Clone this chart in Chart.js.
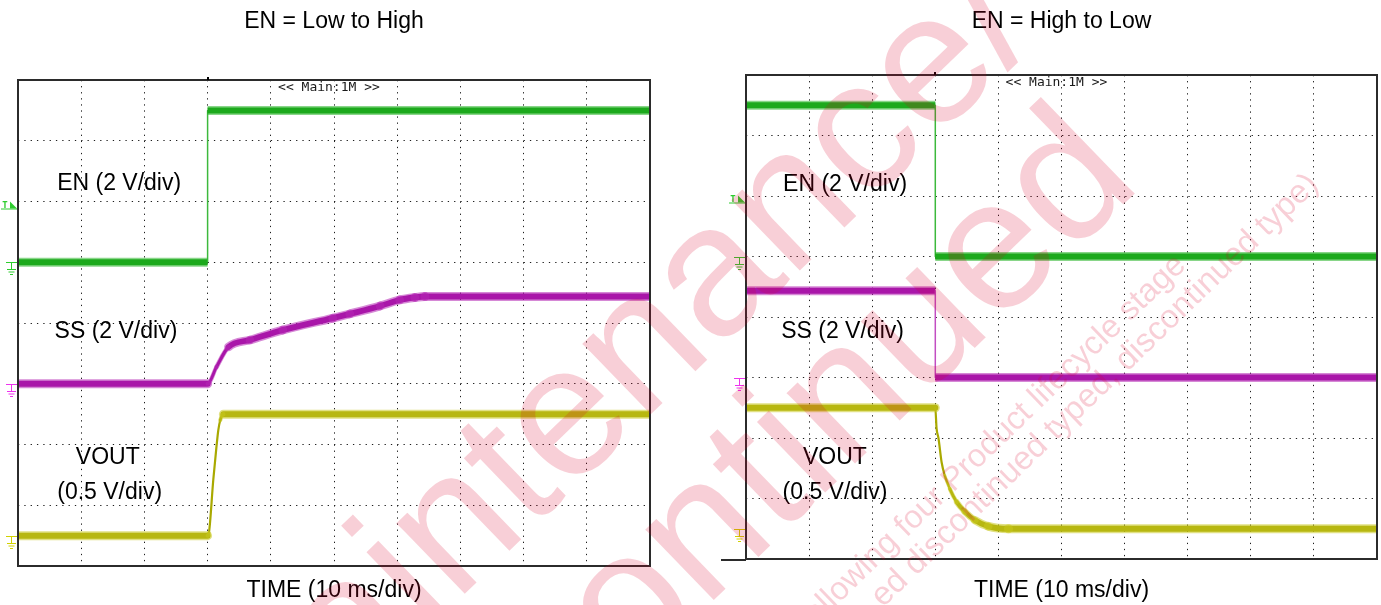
<!DOCTYPE html>
<html>
<head>
<meta charset="utf-8">
<script src="https://cdn.jsdelivr.net/npm/chart.js@4.4.1/dist/chart.umd.min.js"></script>
<style>
html,body{margin:0;padding:0;background:#fff;overflow:hidden}
#wrap{position:relative;width:1381px;height:605px;background:#fff}
.pane{position:absolute;top:0;height:605px}
#wm{position:absolute;left:0;top:0;z-index:10;pointer-events:none}
</style>
</head>
<body>
<div id="wrap">
  <div class="pane" style="left:0;width:700px"><canvas id="c1"></canvas></div>
  <div class="pane" style="left:700px;width:681px"><canvas id="c2"></canvas></div>
  <canvas id="wm" width="1381" height="605"></canvas>
</div>
<script>
// ---------------- data ----------------
const panelTitles = ['EN = Low to High', 'EN = High to Low'];
const xAxisTitle = 'TIME (10 ms/div)';
const timebaseText = '<< Main:1M >>';
const channelNames = ['EN', 'SS', 'VOUT'];
const voltsPerDiv = [2, 2, 0.5];        // V/div per channel
const groundDiv = [5, 3, 0.5];          // ground level, divisions from bottom
const triggerTimeMs = 30;
const triggerLevelV = 2;                // on EN
const timeMinMs = 0, timeMaxMs = 100, msPerDiv = 10;
const divsY = 8;

// Left: EN low -> high (times in ms, values in V)
const enUpTime   = [0, 30, 30, 100];
const enUpV      = [0, 0, 5.0, 5.0];
const ssUpTime   = [0, 30, 31.4, 33.3, 36.7, 41.9, 49.8, 52.5, 57.3, 60.4, 62.8, 64.4, 100];
const ssUpV      = [0, 0, 0.55, 1.21, 1.44, 1.77, 2.16, 2.30, 2.56, 2.76, 2.84, 2.87, 2.87];
const voutUpTime = [0, 30, 30.2, 30.9, 31.4, 31.7, 32.0, 32.5, 100];
const voutUpV    = [0, 0, 0.02, 0.46, 0.73, 0.87, 0.95, 1.0, 1.0];

// Right: EN high -> low
const enDnTime   = [0, 30, 30, 100];
const enDnV      = [5.0, 5.0, 0, 0];
const ssDnTime   = [0, 30, 30, 100];
const ssDnV      = [2.87, 2.87, 0, 0];
const voutDnTime = [0, 30, 30.2, 30.5, 31.0, 31.5, 32.3, 33.4, 34.7, 36.3, 38.4, 41.6, 100];
const voutDnV    = [1.0, 1.0, 0.83, 0.75, 0.55, 0.44, 0.33, 0.22, 0.14, 0.07, 0.02, 0.0, 0.0];

// in-plot channel labels
const labelTexts = ['EN (2 V/div)', 'SS (2 V/div)', 'VOUT', '(0.5 V/div)'];
const watermarkTexts = ['Maintenance/', 'Discontinued', 'following four Product lifecycle stage', 'ed discontinued typed, discontinued type)'];

// ---------------- styles / layout ----------------
const FONT = '"Liberation Sans", Arial, Helvetica, sans-serif';
const traceStyle = [
  {core: '#0e9b0e', fringe: 'rgba(40,180,40,0.55)', thin: '#3cb93c', band: 6, fringeBand: 9, minW: 1.5},
  {core: '#9b009b', fringe: 'rgba(180,40,180,0.55)', thin: '#c24ec2', band: 6, fringeBand: 9, minW: 1.5},
  {core: '#a3a300', fringe: 'rgba(200,200,30,0.55)', thin: '#a9a900', band: 6, fringeBand: 9, minW: 2.2}
];
const markerColors = ['#2ecc2e', '#ee33ee', '#d2d200'];
const labelPos = [
  [[16.0, 6.30], [15.5, 3.86], [14.2, 1.78], [14.5, 1.21]],
  [[15.7, 6.19], [15.3, 3.76], [14.1, 1.68], [14.1, 1.09]]
];

function toPoints(times, values, ch) {
  return times.map((t, i) => ({x: t, y: groundDiv[ch] + values[i] / voltsPerDiv[ch]}));
}
function segWidth(c, band, minW) {
  const dx = Math.abs(c.p1.x - c.p0.x), dy = Math.abs(c.p1.y - c.p0.y);
  const len = Math.hypot(dx, dy) || 1;
  return Math.max(minW, band * dx / len);
}

function drawGround(ctx, left, yy, color) {
  ctx.strokeStyle = color; ctx.lineWidth = 1;
  ctx.beginPath();
  ctx.moveTo(left - 12, yy); ctx.lineTo(left - 1, yy);
  ctx.moveTo(left - 6.5, yy); ctx.lineTo(left - 6.5, yy + 7);
  ctx.moveTo(left - 11, yy + 7); ctx.lineTo(left - 2, yy + 7);
  ctx.moveTo(left - 9.5, yy + 9.5); ctx.lineTo(left - 3.5, yy + 9.5);
  ctx.moveTo(left - 8, yy + 12); ctx.lineTo(left - 5, yy + 12);
  ctx.stroke();
}
function drawTrig(ctx, left, yy, color) {
  ctx.fillStyle = color; ctx.strokeStyle = color; ctx.lineWidth = 1;
  ctx.font = 'bold 9px "DejaVu Sans Mono", monospace';
  ctx.textAlign = 'center'; ctx.textBaseline = 'alphabetic';
  ctx.fillText('T', left - 13, yy + 5);
  ctx.beginPath(); ctx.moveTo(left - 17, yy + 6.5); ctx.lineTo(left - 1, yy + 6.5); ctx.stroke();
  ctx.beginPath(); ctx.moveTo(left - 8, yy - 1); ctx.lineTo(left - 1, yy + 6); ctx.lineTo(left - 8, yy + 6); ctx.closePath(); ctx.fill();
}

const scopePlugin = {
  id: 'scope',
  afterDraw(chart, args, o) {
    const {ctx, chartArea: a} = chart;
    const x = chart.scales.x, y = chart.scales.y;
    ctx.save();
    ctx.fillStyle = '#000';
    ctx.font = '23px ' + FONT;
    ctx.textAlign = 'center'; ctx.textBaseline = 'middle';
    labelTexts.forEach((txt, i) => {
      const p = labelPos[o.panel][i];
      ctx.fillText(txt, x.getPixelForValue(p[0]), y.getPixelForValue(p[1]));
    });
    ctx.font = '13px "DejaVu Sans Mono", monospace';
    ctx.fillStyle = '#1a1a1a';
    ctx.fillText(timebaseText, x.getPixelForValue(49.2), a.top + 8);
    // frame
    ctx.strokeStyle = '#2b2b2b'; ctx.lineWidth = 2;
    ctx.strokeRect(a.left, a.top, a.right - a.left, a.bottom - a.top);
    if (o.bottomExtend) {
      ctx.beginPath(); ctx.moveTo(a.left - o.bottomExtend, a.bottom + 1); ctx.lineTo(a.left, a.bottom + 1); ctx.stroke();
    }
    // trigger position mark
    const tx = Math.round(x.getPixelForValue(triggerTimeMs));
    ctx.fillStyle = '#000'; ctx.fillRect(tx - 1, a.top - 3, 2, 3);
    // ground markers
    groundDiv.forEach((g, ch) => drawGround(ctx, a.left, Math.round(y.getPixelForValue(g)) + 0.5, markerColors[ch]));
    drawTrig(ctx, a.left, Math.round(y.getPixelForValue(groundDiv[0] + triggerLevelV / voltsPerDiv[0])) + 0.5, markerColors[0]);
    ctx.restore();
  }
};

function traceDatasets(times, values, ch) {
  const st = traceStyle[ch];
  const mono = times.every((t, i) => i === 0 || t > times[i - 1]);
  const base = {
    label: channelNames[ch],
    data: toPoints(times, values, ch),
    pointRadius: 0, fill: false, clip: 0, tension: 0,
    cubicInterpolationMode: mono ? 'monotone' : 'default',
    borderJoinStyle: 'round'
  };
  const fringe = Object.assign({}, base, {
    borderColor: st.fringe, borderWidth: st.fringeBand,
    segment: {
      borderWidth: c => segWidth(c, st.fringeBand, 0.01),
      borderColor: c => segWidth(c, st.fringeBand, 0.01) < 3 ? 'rgba(0,0,0,0)' : st.fringe,
      borderCapStyle: () => (mono ? 'round' : 'butt')
    }
  });
  const core = Object.assign({}, base, {
    borderColor: st.core, borderWidth: st.band,
    segment: {
      borderWidth: c => segWidth(c, st.band, st.minW),
      borderColor: c => segWidth(c, st.band, st.minW) < 2.5 ? st.thin : st.core,
      borderCapStyle: () => (mono ? 'round' : 'butt')
    }
  });
  return [fringe, core];
}

function makeChart(id, panel, traces, layout) {
  const datasets = [];
  traces.forEach((tr, ch) => datasets.push(...traceDatasets(tr[0], tr[1], ch)));
  return new Chart(document.getElementById(id), {
    type: 'line',
    data: {datasets: datasets},
    options: {
      responsive: true, maintainAspectRatio: false, animation: false, events: [],
      layout: {padding: layout.padding},
      plugins: {
        legend: {display: false}, tooltip: {enabled: false},
        title: {display: true, text: panelTitles[panel], color: '#000',
          font: {family: FONT, size: 23, weight: 'normal', lineHeight: 1.2}, padding: layout.titlePad},
        scope: {panel: panel, bottomExtend: layout.bottomExtend}
      },
      scales: {
        x: {type: 'linear', min: timeMinMs, max: timeMaxMs,
          ticks: {display: false, stepSize: msPerDiv},
          grid: {color: '#1e1e1e', lineWidth: 1, drawTicks: false},
          border: {display: false, dash: [1.3, 4.775]},
          title: {display: true, text: xAxisTitle, color: '#000',
            font: {family: FONT, size: 23, weight: 'normal', lineHeight: 1.2}, padding: layout.xTitlePad}},
        y: {type: 'linear', min: 0, max: divsY,
          ticks: {display: false, stepSize: 1},
          grid: {color: '#1e1e1e', lineWidth: 1, drawTicks: false},
          border: {display: false, dash: [1.3, 5.02]}}
      }
    },
    plugins: [scopePlugin]
  });
}

makeChart('c1', 0, [[enUpTime, enUpV], [ssUpTime, ssUpV], [voutUpTime, voutUpV]], {
  padding: {left: 18, right: 50, top: 0, bottom: 0.2},
  titlePad: {top: 8.2, bottom: 44.2},
  xTitlePad: {top: 11.2, bottom: 0},
  bottomExtend: 0
});
makeChart('c2', 1, [[enDnTime, enDnV], [ssDnTime, ssDnV], [voutDnTime, voutDnV]], {
  padding: {left: 46, right: 4, top: 0, bottom: 0.2},
  titlePad: {top: 8.2, bottom: 39.2},
  xTitlePad: {top: 18.2, bottom: 0},
  bottomExtend: 25
});

// ---------------- watermark overlay ----------------
const wm = document.getElementById('wm').getContext('2d');
wm.fillStyle = 'rgba(220,0,40,0.19)';
function wmText(text, x, y, deg, font) {
  wm.save(); wm.translate(x, y); wm.rotate(deg * Math.PI / 180);
  wm.font = font; wm.textBaseline = 'alphabetic'; wm.textAlign = 'left';
  wm.fillText(text, 0, 0); wm.restore();
}
wmText(watermarkTexts[0], 240, 811, -44, '186px ' + FONT);
wmText(watermarkTexts[1], 370, 932, -44, '186px ' + FONT);
wmText(watermarkTexts[2], 809, 632, -44, '32.5px ' + FONT);
wmText(watermarkTexts[3], 883, 608, -44, '33px ' + FONT);
</script>
</body>
</html>
